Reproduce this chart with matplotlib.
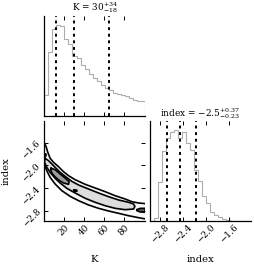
import numpy as np
import matplotlib
matplotlib.use("Agg")
import matplotlib.pyplot as plt

plt.rcParams['font.family'] = ['DejaVu Serif']
plt.rcParams['mathtext.fontset'] = 'dejavuserif'

# ---------------- data ----------------
K_lim = (0.3, 100.9)
idx_lim = (-2.98, -1.22)

K_counts = [61, 188, 258, 270, 265, 228, 212, 176, 170, 150, 138, 122, 110,
            102, 92, 82, 76, 68, 63, 62, 58, 52, 45, 42, 42]
idx_counts = [1, 8, 116, 206, 245, 263, 268, 245, 263, 231, 208, 151, 118,
              75, 53, 28, 18, 11, 5, 3, 1, 0, 0, 0, 0]

K_quantiles = [12, 30, 64.5]
idx_quantiles = [-2.68, -2.447, -2.183]

K_title = r"K = $30_{-18}^{+34}$"
idx_title = r"index = $-2.5_{-0.23}^{+0.37}$"

K_ticks = [20, 40, 60, 80]
idx_ticks = [-2.8, -2.4, -2.0, -1.6]

# contour outlines (K, index)
outer_K = [-1.2, 1.8, 3.8, 6.1, 9.5, 14.5, 19.5, 24.5, 31.1, 41.1, 51.1, 61.1, 71.1,
           81.1, 87.8, 94.5, 101.8,
           101.8, 94.5, 84.5, 74.5, 64.5, 54.5, 44.5, 34.5, 26.1, 17.8, 11.1, 6.1,
           2.8, 0.5, -1.2]
outer_i = [-1.584, -1.654, -1.771, -1.876, -1.947, -2.024, -2.112, -2.182, -2.253,
           -2.334, -2.399, -2.464, -2.535, -2.593, -2.64, -2.663, -2.675,
           -2.945, -2.922, -2.887, -2.845, -2.804, -2.757, -2.698, -2.622, -2.546,
           -2.446, -2.329, -2.211, -2.094, -1.994, -1.947]

mid_K = [1.1, 4.5, 7.8, 11.1, 16.1, 21.1, 27.8, 34.5, 44.5, 54.5, 64.5, 74.5, 84.5,
         89.5, 90.8, 89.5, 81.1, 71.1, 61.1, 51.1, 41.1, 31.1, 22.8, 16.1, 11.1,
         6.1, 2.8, 0.5]
mid_i = [-1.876, -1.918, -1.976, -2.035, -2.123, -2.194, -2.282, -2.346, -2.417,
         -2.487, -2.552, -2.61, -2.651, -2.681, -2.722, -2.769, -2.781, -2.757,
         -2.711, -2.651, -2.58, -2.487, -2.405, -2.311, -2.229, -2.123, -2.035,
         -1.947]

inner_K = [7.1, 11.1, 16.1, 21.1, 25.1, 24.5, 19.5, 14.5, 10.5, 7.8, 6.8]
inner_i = [-2.053, -2.076, -2.153, -2.223, -2.288, -2.334, -2.311, -2.258,
           -2.194, -2.135, -2.082]

blob_K = [[29.8, 32.5, 33.1, 30.5], [0.5, 1.8, 1.8, 0.5],
          [92.8, 96.1, 101.1, 101.1, 96.1, 92.8]]
blob_i = [[-2.434, -2.434, -2.452, -2.464], [-1.80, -1.80, -1.83, -1.83],
          [-2.781, -2.757, -2.757, -2.827, -2.821, -2.799]]

# ---------------- layout ----------------
W, H = 255, 266
fig = plt.figure(figsize=(W / 100, H / 100), dpi=100)

def box(x0, x1, ytop, ybot):
    return [x0 / W, 1 - ybot / H, (x1 - x0) / W, (ybot - ytop) / H]

ax_K = fig.add_axes(box(44.3, 145, 15.5, 115.5))
ax_2d = fig.add_axes(box(44.3, 145, 121, 221))
ax_i = fig.add_axes(box(150, 250.5, 121, 221))

FS = 6.4
LFS = 7.2
hist_col = '0.68'
dash = (0, (1.5, 1.9))

def style(ax):
    for s in ['top', 'right']:
        ax.spines[s].set_visible(False)
    for s in ['left', 'bottom']:
        ax.spines[s].set_linewidth(0.9)
    ax.tick_params(direction='in', top=True, right=True, length=2.6, width=0.7,
                   labelsize=FS, pad=1.5)

# K histogram
edges_K = np.linspace(K_lim[0], K_lim[1], len(K_counts) + 1)
ax_K.stairs(K_counts, edges_K, color=hist_col, lw=0.8)
for q in K_quantiles:
    ax_K.axvline(q, color='k', lw=1.4, ls=dash)
ax_K.set_xlim(K_lim)
ax_K.set_ylim(0, 1.1 * max(K_counts))
style(ax_K)
ax_K.set_yticks([])
ax_K.set_xticks(K_ticks)
ax_K.set_xticklabels([])
ax_K.set_title(K_title, fontsize=FS, pad=3)

# index histogram
edges_i = np.linspace(idx_lim[0], idx_lim[1], len(idx_counts) + 1)
ax_i.stairs(idx_counts, edges_i, color=hist_col, lw=0.8)
for q in idx_quantiles:
    ax_i.axvline(q, color='k', lw=1.4, ls=dash)
ax_i.set_xlim(idx_lim)
ax_i.set_ylim(0, 1.1 * max(idx_counts))
style(ax_i)
ax_i.set_yticks([])
ax_i.set_xticks(idx_ticks)
ax_i.set_xticklabels([f"{t:.1f}".replace('-', '\u2212') for t in idx_ticks],
                     rotation=45)
ax_i.set_title(idx_title, fontsize=FS, pad=3)
ax_i.set_xlabel('index', fontsize=LFS)
ax_i.xaxis.set_label_coords(0.5, -0.34)

# 2D panel
ax_2d.fill(outer_K, outer_i, color='#f7f7f7', lw=0)
ax_2d.fill(mid_K, mid_i, color='#dcdcdc', lw=0)
ax_2d.fill(inner_K, inner_i, color='#9c9c9c', lw=0)
for bk, bi in zip(blob_K, blob_i):
    ax_2d.fill(bk, bi, color='#555555', lw=0)
for xs, ys in [(outer_K, outer_i), (mid_K, mid_i), (inner_K, inner_i)] + \
        list(zip(blob_K, blob_i)):
    ax_2d.plot(list(xs) + [xs[0]], list(ys) + [ys[0]], color='k', lw=1.2)
ax_2d.set_xlim(K_lim)
ax_2d.set_ylim(idx_lim)
style(ax_2d)
ax_2d.set_xticks(K_ticks)
ax_2d.set_xticklabels([str(t) for t in K_ticks], rotation=45)
ax_2d.set_yticks(idx_ticks)
ax_2d.set_yticklabels([f"{t:.1f}".replace('-', '\u2212') for t in idx_ticks],
                      rotation=45)
ax_2d.set_xlabel('K', fontsize=LFS)
ax_2d.xaxis.set_label_coords(0.5, -0.34)
ax_2d.set_ylabel('index', fontsize=LFS)
ax_2d.yaxis.set_label_coords(-0.33, 0.5)

fig.savefig('out.png', dpi=100)
